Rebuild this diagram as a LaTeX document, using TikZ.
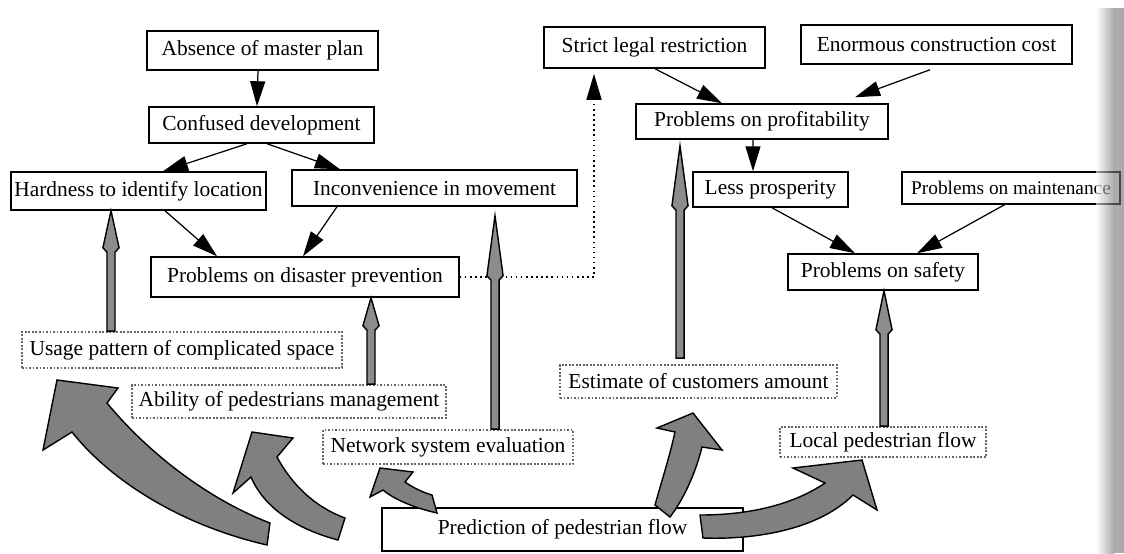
\documentclass[tikz,border=0pt]{standalone}
\usepackage{fontspec}
\setmainfont{Liberation Serif}
\usetikzlibrary{arrows.meta,calc}
\newcommand\fatup[3]{\draw[fatstyle] let \p1=#1, \p2=#2 in
 (\x1-2.3pt,\y1) -- (\x1-2.3pt,\y2-#3-2.5pt) -- (\x1-4.6pt,\y2-#3) -- (\x1,\y2)
 -- (\x1+4.6pt,\y2-#3) -- (\x1+2.3pt,\y2-#3-2.5pt) -- (\x1+2.3pt,\y1) -- cycle;}
\begin{document}
\begin{tikzpicture}[x=0.2mm,y=-0.2mm,
  every node/.style={font=\fontsize{12.2pt}{14pt}\selectfont, inner sep=0pt, align=center},
  solidbox/.style={draw=black, line width=0.85pt, fill=white},
  dotbox/.style={draw=black!60, densely dotted, line width=1pt, fill=white},
  tarrow/.style={line width=0.7pt, -{Triangle[length=5mm,width=3mm]}},
  dotarrow/.style={line width=0.9pt, dotted, -{Triangle[length=5.2mm,width=3mm]}},
  fatstyle/.style={fill=black!45, draw=black, line width=0.8pt, line join=miter},
  curvy/.style={fill=black!50, draw=black, line width=0.8pt, line join=miter}]
\useasboundingbox (0,0) rectangle (1124,553);
\clip (0,0) rectangle (1124,553);

% solid boxes
\node[solidbox, minimum width=46.2mm, minimum height=7.8mm] (absence) at (262.5,50.5) {Absence of master plan};
\node[solidbox, minimum width=45mm, minimum height=7.2mm] (confused) at (261.5,125) {Confused development};
\node[solidbox, minimum width=51mm, minimum height=7.6mm] (hard) at (138.5,191) {Hardness to identify location};
\node[solidbox, minimum width=57mm, minimum height=7.2mm] (incon) at (434.5,188) {Inconvenience in movement};
\node[solidbox, minimum width=44.2mm, minimum height=8.2mm] (strict) at (654.5,47.5) {Strict legal restriction};
\node[solidbox, minimum width=54.2mm, minimum height=7.8mm] (enorm) at (936.5,44.5) {Enormous construction cost};
\node[solidbox, minimum width=50.4mm, minimum height=7mm] (profit) at (762,121.5) {Problems on profitability};
\node[solidbox, minimum width=31mm, minimum height=7mm] (less) at (770.5,189.5) {Less prosperity};
\node[solidbox, minimum width=43.6mm, minimum height=6.4mm, font=\fontsize{11pt}{13pt}\selectfont] (maint) at (1011,188) {Problems on maintenance};
\node[solidbox, minimum width=38mm, minimum height=7.2mm] (safety) at (883,272) {Problems on safety};
\node[solidbox, minimum width=61.6mm, minimum height=8mm] (disaster) at (305,277) {Problems on disaster prevention};
\node[solidbox, minimum width=72.2mm, minimum height=8.6mm] (predict) at (562.5,529.5) {Prediction of pedestrian flow};

% dotted boxes
\node[dotbox, minimum width=64mm, minimum height=7.2mm] (usage) at (182,350) {Usage pattern of complicated space};
\node[dotbox, minimum width=62.8mm, minimum height=6.6mm] (ability) at (289,401.5) {Ability of pedestrians management};
\node[dotbox, minimum width=50mm, minimum height=6.8mm] (network) at (448,447) {Network system evaluation};
\node[dotbox, minimum width=55.4mm, minimum height=6.6mm] (estimate) at (698.5,381.5) {Estimate of customers amount};
\node[dotbox, minimum width=41.2mm, minimum height=6mm] (local) at (883,442) {Local pedestrian flow};

% thin arrows
\draw[tarrow] ([xshift=-0.9mm]absence.south) -- ([xshift=-0.9mm]confused.north);
\draw[tarrow] ([xshift=-2.9mm]confused.south) -- ([xshift=4.9mm]hard.north);
\draw[tarrow] ([xshift=1.1mm]confused.south) -- ([xshift=-18.9mm]incon.north);
\draw[tarrow] ([xshift=5.3mm]hard.south) -- ([xshift=-17.6mm]disaster.north);
\draw[tarrow] ([xshift=-19.5mm]incon.south) -- ([xshift=-0.4mm]disaster.north);
\draw[tarrow] ([xshift=0.1mm]strict.south) -- ([xshift=-8mm]profit.north);
\draw[tarrow] ([xshift=-1.3mm,yshift=-1mm]enorm.south) -- ([xshift=18.6mm,yshift=1.2mm]profit.north);
\draw[tarrow] ([xshift=-1.8mm]profit.south) -- ([xshift=-3.5mm]less.north);
\draw[tarrow] ([xshift=0.3mm]less.south) -- ([xshift=-5.6mm]safety.north);
\draw[tarrow] ([xshift=-1.3mm]maint.south) -- ([xshift=6.8mm]safety.north);

% dotted connector
\draw[dotarrow] (disaster.east) -| ([xshift=-12.1mm,yshift=-1mm]strict.south);

% fat up arrows
\fatup{([xshift=-14.2mm]usage.north)}{([xshift=-5.5mm]hard.south)}{7.4mm}
\fatup{([xshift=16.4mm]ability.north)}{([xshift=13.2mm]disaster.south)}{5.6mm}
\fatup{([xshift=9.4mm]network.north)}{([xshift=12.1mm,yshift=-1.8mm]incon.south)}{12mm}
\fatup{([xshift=-3.7mm,yshift=1.2mm]estimate.north)}{([xshift=-16.4mm,yshift=-1.2mm]profit.south)}{12mm}
\fatup{([xshift=0.2mm]local.north)}{([xshift=0.2mm]safety.south)}{7.8mm}

% big curved arrows
\draw[curvy] (270,523) -- (267,545) .. controls (180,525) and (110,480) .. (72,432)
  -- (43,450) -- (57,380) -- (118,388) -- (107,403)
  .. controls (150,455) and (210,500) .. (270,523) -- cycle;
\draw[curvy] (345,518) -- (338,540) .. controls (300,530) and (265,510) .. (251,477)
  -- (233,493) -- (252,432) -- (293,438) -- (277,457)
  .. controls (292,485) and (315,507) .. (345,518) -- cycle;
\draw[curvy] (432,495) -- (437,513) .. controls (415,508) and (395,500) .. (383,490)
  -- (370,497) -- (380,468) -- (413,472) -- (405,482)
  .. controls (415,489) and (425,493) .. (432,495) -- cycle;
\draw[curvy] (670,517) -- (655,505) .. controls (662,480) and (670,455) .. (675,432)
  -- (657,428) -- (693,413) -- (722,450) -- (702,447)
  .. controls (695,475) and (683,500) .. (670,517) -- cycle;
\draw[curvy] (700,515) -- (703,538) .. controls (760,540) and (820,528) .. (853,495)
  -- (877,510) -- (862,460) -- (793,468) -- (825,483)
  .. controls (800,500) and (760,515) .. (700,515) -- cycle;

% page-edge shade of the scan
\shade[left color=white, right color=black!55, opacity=0.6] (1096,8) rectangle (1114,553);
\fill[black!55, opacity=0.6] (1114,8) rectangle (1124,553);
\end{tikzpicture}
\end{document}
